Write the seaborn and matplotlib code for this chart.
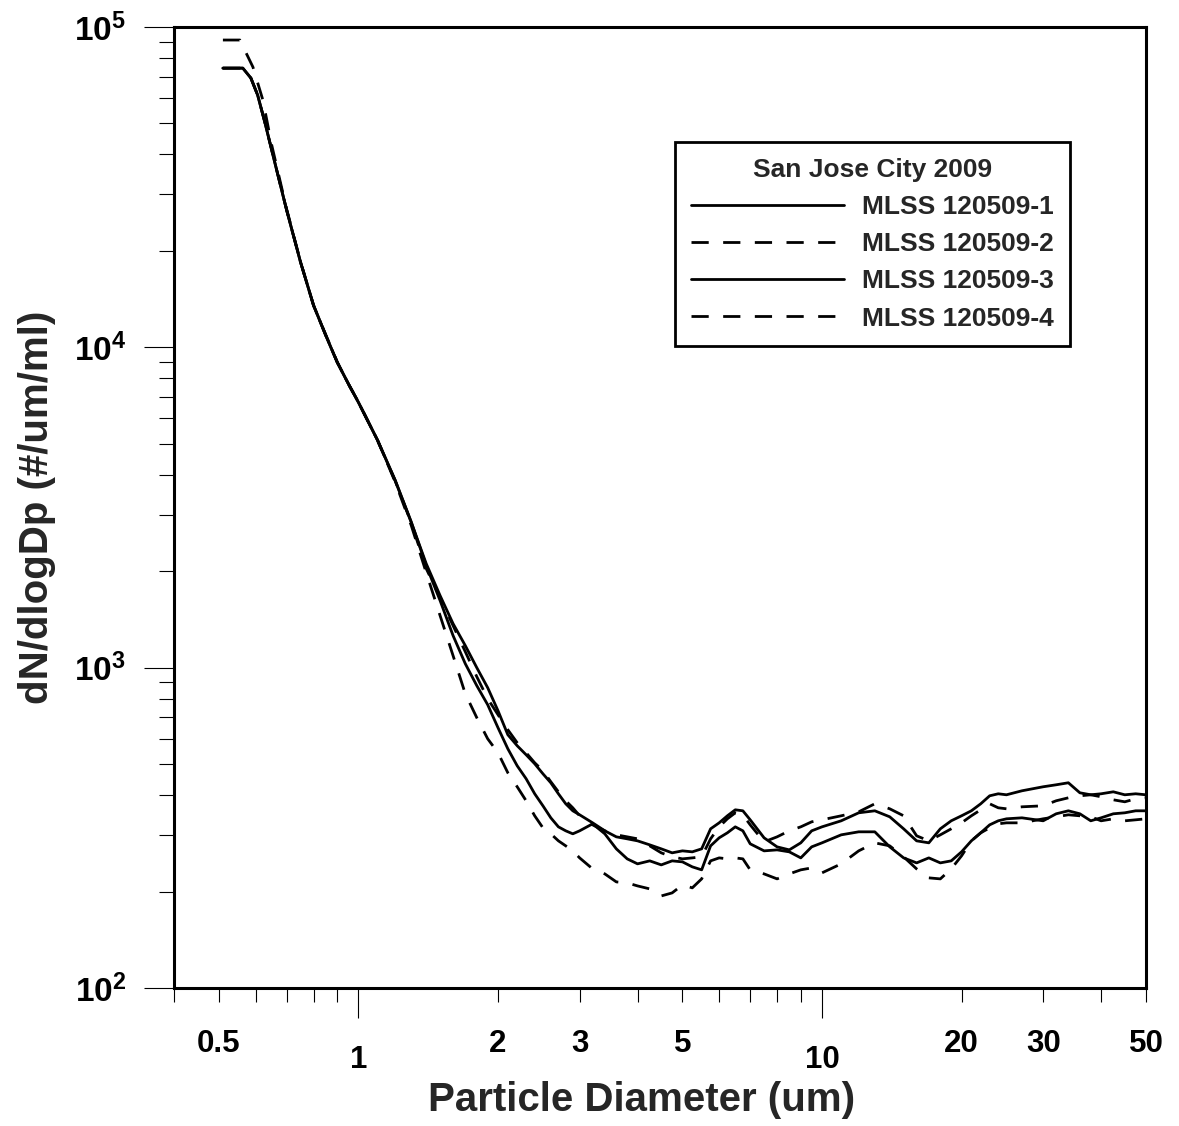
import matplotlib
matplotlib.use("Agg")
import matplotlib.pyplot as plt
import seaborn as sns
from matplotlib.ticker import FixedLocator, FixedFormatter, NullFormatter, LogLocator

# ---------------- data ----------------
diam_head = [0.51, 0.535, 0.563, 0.586, 0.606, 0.628, 0.65, 0.7, 0.75, 0.8,
             0.85, 0.9, 0.95, 1.0, 1.1, 1.2, 1.3, 1.4]
diam_head_s2 = [0.51, 0.535, 0.555, 0.571, 0.592, 0.622, 0.65, 0.7, 0.75, 0.8,
                0.85, 0.9, 0.95, 1.0, 1.1, 1.2, 1.3, 1.4]
diam_tail = [1.5, 1.6, 1.7, 1.8, 1.9, 2.0, 2.1, 2.2, 2.3, 2.4, 2.5, 2.6, 2.7, 2.8, 2.9, 3.0,
             3.2, 3.4, 3.6, 3.8, 4.0,
             4.25, 4.5, 4.75, 5.0, 5.25, 5.5, 5.75, 6.0, 6.25, 6.5, 6.75, 7.0,
             7.5, 8, 8.5, 9, 9.5, 10,
             11, 12, 13, 14, 15, 16, 17, 18, 19, 20, 21, 22, 23, 24, 25,
             27, 30, 32, 34, 36, 38, 40,
             42.5, 45, 47.5, 50]

s1_head = [74400, 74400, 74400, 69290, 61320, 50480, 41260, 26800, 18440, 13530,
           10900, 8978, 7720, 6731, 5122, 3840, 2839, 2113]
s2_head = [91060, 91060, 91060, 83540, 75000, 59140, 42780, 27000, 18500, 13500,
           10950, 9000, 7700, 6750, 5110, 3830, 2830, 2039]
s3_head = [74400, 74400, 74400, 69290, 61320, 50480, 41260, 26800, 18440, 13530,
           10900, 8978, 7720, 6731, 5122, 3850, 2850, 2083]
s4_head = [74400, 74400, 74400, 69290, 61320, 50480, 41260, 26800, 18440, 13530,
           10900, 8978, 7720, 6731, 5122, 3800, 2778, 1981]

s1_tail = [1679, 1372, 1172, 1000, 866.0, 733.9, 617.5, 570.5, 534.6, 501.2, 466.4, 437.1, 403.9, 375.9, 357.4, 347.3,
           327.8, 309.5, 296.4, 292.2, 288.0,
           279.8, 271.9, 264.2, 268.0, 266.1, 271.9, 314.0, 327.8, 344.8, 360.0, 357.4, 335.0,
           294.3, 275.8, 269.9, 283.9, 309.5, 318.5,
           332.6, 352.3, 357.4, 342.3, 314.0, 288.0, 283.9, 314.0, 332.6, 344.8, 357.4, 375.9, 398.1, 403.9, 401.0,
           412.7, 424.8, 430.9, 437.2, 406.8, 401.0, 403.9,
           409.7, 401.0, 403.9, 401.0]
s2_tail = [1654, 1353, 1122, 937.3, 800.0, 713.1, 640.1, 583.0, 542.4, 504.7, 476.6, 440.4, 409.7, 384.1, 365.2, 344.8,
           323.1, 309.5, 300.7, 296.4, 292.2,
           277.8, 264.2, 256.7, 253.0, 254.8, 256.7, 292.2, 318.5, 337.4, 352.3, 347.3, 323.1,
           285.9, 296.4, 309.5, 318.5, 330.2, 335.0,
           344.8, 354.8, 375.9, 362.6, 344.8, 298.6, 288.0, 300.7, 314.0, 327.8, 344.8, 360.0, 375.9, 365.2, 362.6,
           367.8, 370.5, 384.1, 392.4, 398.1, 401.0, 395.3,
           386.8, 381.3, 389.6, 392.4]
s3_tail = [1620, 1259, 1029, 878.6, 766.2, 649.4, 558.3, 494.0, 450.0, 403.9, 370.5, 339.8, 318.5, 309.5, 302.9, 309.5,
           325.5, 302.9, 271.9, 253.0, 244.1,
           249.4, 242.3, 249.4, 247.6, 238.9, 233.8, 277.8, 294.3, 305.1, 318.5, 309.5, 281.9,
           268.0, 269.9, 266.1, 254.8, 275.8, 283.9,
           300.7, 307.3, 307.3, 275.8, 254.8, 245.8, 254.8, 245.8, 249.4, 266.1, 288.0, 305.1, 323.1, 332.6, 337.4,
           339.8, 332.6, 349.8, 357.4, 349.8, 332.6, 339.8,
           349.8, 352.3, 357.4, 357.4]
s4_tail = [1454, 1090, 829.3, 697.9, 599.9, 542.4, 469.8, 424.8, 384.1, 344.8, 316.2, 302.9, 288.0, 277.8, 268.0, 254.8,
           235.4, 227.1, 214.4, 212.9, 208.3,
           203.9, 193.8, 198.1, 209.8, 205.4, 219.1, 249.4, 254.8, 253.0, 254.8, 253.0, 233.8,
           227.1, 219.1, 227.1, 233.8, 237.1, 228.8,
           244.1, 268.0, 283.9, 277.8, 256.7, 235.4, 220.7, 219.1, 235.4, 258.5, 288.0, 305.1, 316.2, 325.5, 327.8,
           327.8, 337.4, 342.3, 347.3, 344.8, 342.3, 332.6,
           337.4, 332.6, 335.0, 337.4]

series_names = ["MLSS 120509-1", "MLSS 120509-2", "MLSS 120509-3", "MLSS 120509-4"]
legend_title = "San Jose City 2009"

x_major = [1, 10]
x_major_labels = ["1", "10"]
x_minor = [0.4, 0.5, 0.6, 0.7, 0.8, 0.9, 2, 3, 4, 5, 6, 7, 8, 9, 20, 30, 40, 50]
x_minor_labels = ["", "0.5", "", "", "", "", "2", "3", "", "5", "", "", "", "", "20", "30", "", "50"]
y_major = [1e2, 1e3, 1e4, 1e5]
y_major_labels = [r"$\mathbf{10^{2}}$", r"$\mathbf{10^{3}}$", r"$\mathbf{10^{4}}$", r"$\mathbf{10^{5}}$"]

# ---------------- style ----------------
sns.set_style("ticks")
plt.rcParams["font.family"] = ["Liberation Sans", "DejaVu Sans"]
plt.rcParams["font.weight"] = "bold"
plt.rcParams["mathtext.fontset"] = "custom"
plt.rcParams["mathtext.bf"] = "Liberation Sans:bold"
plt.rcParams["mathtext.rm"] = "Liberation Sans:bold"
plt.rcParams["mathtext.it"] = "Liberation Sans:bold:italic"

W, H = 1179, 1126
fig = plt.figure(figsize=(W / 100, H / 100), dpi=100)
ax = fig.add_axes([174 / W, (H - 988) / H, 972 / W, 961 / H])
ax.set_xscale("log")
ax.set_yscale("log")

dash = (0, (6.2, 5.2))
series = [
    (series_names[0], diam_head + diam_tail, s1_head + s1_tail, "-"),
    (series_names[1], diam_head_s2 + diam_tail, s2_head + s2_tail, dash),
    (series_names[2], diam_head + diam_tail, s3_head + s3_tail, "-"),
    (series_names[3], diam_head + diam_tail, s4_head + s4_tail, dash),
]
handles = []
for name, d, n, ls in series:
    sns.lineplot(x=d, y=n, ax=ax, color="black", linewidth=2.0, linestyle=ls,
                 estimator=None, sort=False, legend=False)
    handles.append(ax.get_lines()[-1])

ax.set_xlim(0.4, 50)
ax.set_ylim(100, 1e5)

# ticks
ax.xaxis.set_major_locator(FixedLocator(x_major))
ax.xaxis.set_major_formatter(FixedFormatter(x_major_labels))
ax.xaxis.set_minor_locator(FixedLocator(x_minor))
ax.xaxis.set_minor_formatter(FixedFormatter(x_minor_labels))
ax.yaxis.set_major_locator(FixedLocator(y_major))
ax.yaxis.set_major_formatter(FixedFormatter(y_major_labels))
ax.yaxis.set_minor_locator(LogLocator(base=10, subs=range(2, 10)))
ax.yaxis.set_minor_formatter(NullFormatter())

ax.tick_params(axis="x", which="major", direction="out", length=21.6, width=0.8,
               pad=19.5, labelsize=22.5, colors="black")
ax.tick_params(axis="x", which="minor", direction="out", length=10, width=0.8,
               pad=19.5, labelsize=22.5, colors="black")
ax.tick_params(axis="y", which="major", direction="out", length=21.6, width=0.8,
               pad=13, labelsize=24, colors="black")
ax.tick_params(axis="y", which="minor", direction="out", length=10.8, width=0.8, colors="black")
for lab in ax.get_xticklabels(which="both"):
    lab.set_fontweight("bold")

for sp in ax.spines.values():
    sp.set_linewidth(2.2)
    sp.set_color("black")

ax.set_xlabel("Particle Diameter (um)", fontsize=29, fontweight="bold")
ax.set_ylabel("dN/dlogDp (#/um/ml)", fontsize=29, fontweight="bold")
ax.xaxis.set_label_coords(0.4815, -0.0968)
ax.yaxis.set_label_coords(-0.1215, 0.5)

leg = ax.legend(handles, series_names, title=legend_title, loc="upper left",
                bbox_to_anchor=(0.5154, 0.8803), borderaxespad=0, frameon=True,
                fancybox=False, edgecolor="black", framealpha=1,
                prop={"size": 19, "weight": "bold"},
                title_fontproperties={"size": 19, "weight": "bold"},
                handlelength=5.8, handletextpad=0.7, labelspacing=0.5, borderpad=0.6)
leg.get_frame().set_linewidth(2.0)

fig.savefig("out.png", dpi=100)
